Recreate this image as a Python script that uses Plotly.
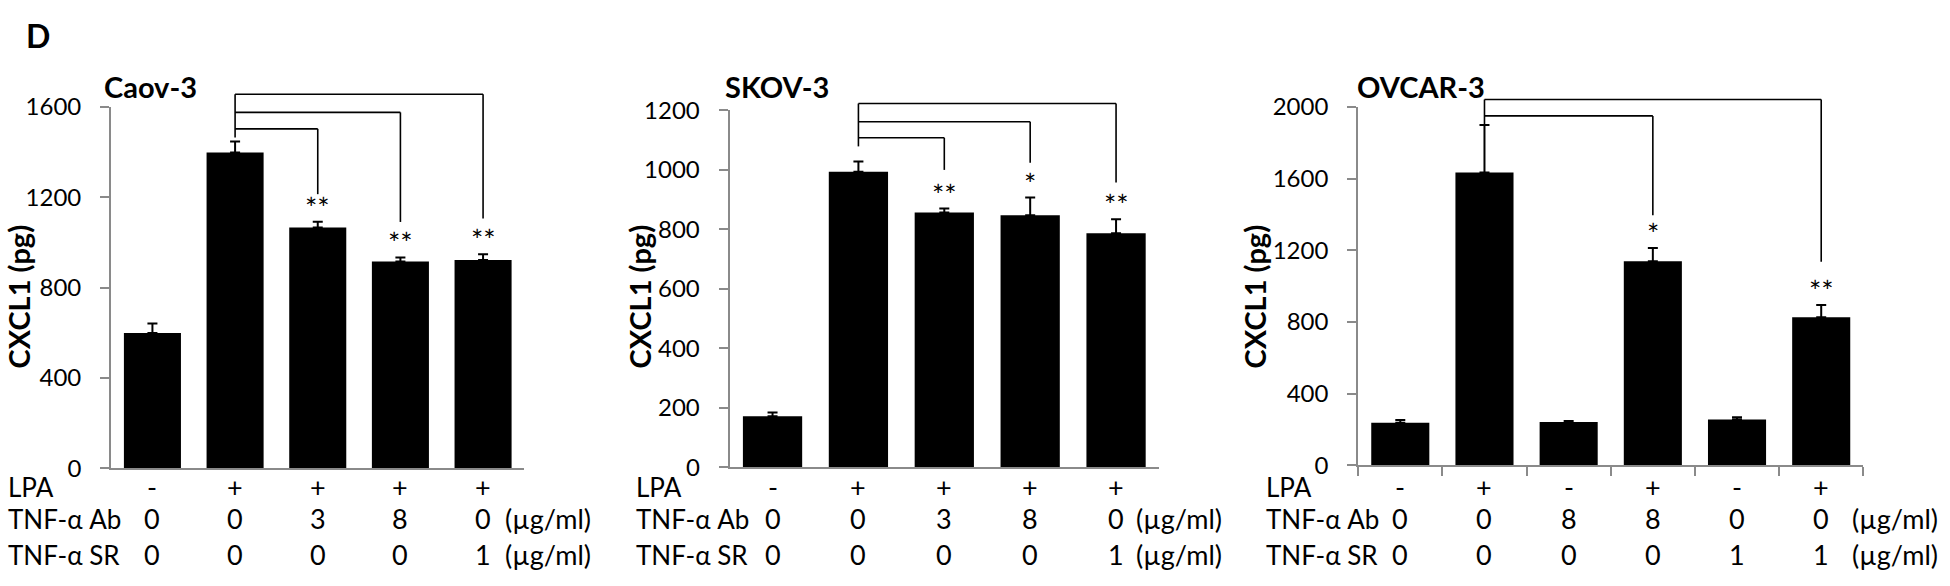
import plotly.graph_objects as go

W, H = 1950, 586

# ---------------- data ----------------
panel_titles = ["Caov-3", "SKOV-3", "OVCAR-3"]

caov_values = [600, 1398, 1067, 916, 923]
caov_errors = [42, 49, 25, 18, 25]
caov_sig = ["", "", "**", "**", "**"]
caov_lpa = ["-", "+", "+", "+", "+"]
caov_ab = ["0", "0", "3", "8", "0"]
caov_sr = ["0", "0", "0", "0", "1"]
caov_yticks = [0, 400, 800, 1200, 1600]

skov_values = [172, 994, 857, 848, 787]
skov_errors = [13, 34, 13, 59, 47]
skov_sig = ["", "", "**", "*", "**"]
skov_lpa = ["-", "+", "+", "+", "+"]
skov_ab = ["0", "0", "3", "8", "0"]
skov_sr = ["0", "0", "0", "0", "1"]
skov_yticks = [0, 200, 400, 600, 800, 1000, 1200]

ovcar_values = [238, 1634, 242, 1139, 256, 826]
ovcar_errors = [15, 266, 5, 74, 12, 69]
ovcar_sig = ["", "", "", "*", "", "**"]
ovcar_lpa = ["-", "+", "-", "+", "-", "+"]
ovcar_ab = ["0", "0", "8", "8", "0", "0"]
ovcar_sr = ["0", "0", "0", "0", "1", "1"]
ovcar_yticks = [0, 400, 800, 1200, 1600, 2000]

row_labels = ["LPA", "TNF-\u03b1 Ab", "TNF-\u03b1 SR"]
unit_label = "(\u00b5g/ml)"
y_title = "CXCL1 (pg)"
panel_letter = "D"

# ---------------- layout geometry (pixels) ----------------
FONT = "Lato, 'Open Sans', 'DejaVu Sans', sans-serif"
AXIS_GRAY = "#8a8a8a"

panels = [
    dict(values=caov_values, errors=caov_errors, sig=caov_sig,
         rows=[caov_lpa, caov_ab, caov_sr], yticks=caov_yticks,
         x0=111.1, x1=524.4, yzero=476.0, ytop=95.7,
         title_x=101.6, ytitle_x=18, label_x=6, unit_x=503, boundary_ticks=False,
         brackets=[(2, 1503, 1214), (3, 1576, 1091), (4, 1656, 1106)], ctrl=1, ctrl_bottom=1465),
    dict(values=skov_values, errors=skov_errors, sig=skov_sig,
         rows=[skov_lpa, skov_ab, skov_sr], yticks=skov_yticks,
         x0=729.6, x1=1159.0, yzero=475.0, ytop=99.3,
         title_x=723, ytitle_x=639, label_x=634, unit_x=1134, boundary_ticks=False,
         brackets=[(2, 1108, 1000), (3, 1162, 1024), (4, 1223, 958)], ctrl=1, ctrl_bottom=1079),
    dict(values=ovcar_values, errors=ovcar_errors, sig=ovcar_sig,
         rows=[ovcar_lpa, ovcar_ab, ovcar_sr], yticks=ovcar_yticks,
         x0=1358.2, x1=1863.3, yzero=472.7, ytop=95.7,
         title_x=1354.8, ytitle_x=1254, label_x=1264, unit_x=1850, boundary_ticks=True,
         brackets=[(3, 1950, 1395), (5, 2042, 1136)], ctrl=1, ctrl_bottom=1905),
]
row_y_px = [495, 529, 567]
ytitle_y_px = 295


def px_x(x):
    return x / W


def px_y(y):
    return 1 - y / H


fig = go.Figure()
shapes = []
annotations = []

for i, p in enumerate(panels):
    k = "" if i == 0 else str(i + 1)
    n = len(p["values"])
    ymax = p["yticks"][-1]
    ydom = [px_y(p["yzero"]), px_y(p["ytop"])]

    def yp(v, ydom=ydom, ymax=ymax):
        return ydom[0] + v / ymax * (ydom[1] - ydom[0])

    fig.add_trace(go.Bar(
        x=list(range(n)), y=p["values"],
        xaxis="x" + k, yaxis="y" + k,
        marker=dict(color="black", line=dict(width=0)),
        error_y=dict(type="data", array=p["errors"], arrayminus=[0] * n,
                     symmetric=False, color="black", thickness=2, width=5),
        showlegend=False, hoverinfo="skip",
    ))

    xa = dict(domain=[px_x(p["x0"]), px_x(p["x1"])], anchor="y" + k,
              range=[-0.5, n - 0.5], showgrid=False, zeroline=False,
              showline=True, linecolor=AXIS_GRAY, linewidth=2,
              showticklabels=False, fixedrange=True)
    if p["boundary_ticks"]:
        xa.update(tickmode="array", tickvals=[j - 0.5 for j in range(n + 1)],
                  ticks="outside", ticklen=9, tickwidth=2, tickcolor=AXIS_GRAY)
    else:
        xa.update(ticks="")
    ya = dict(domain=ydom, anchor="x" + k, range=[0, ymax],
              tickmode="array", tickvals=p["yticks"],
              ticks="outside", ticklen=9, tickwidth=2, tickcolor=AXIS_GRAY,
              showline=True, linecolor=AXIS_GRAY, linewidth=2,
              showgrid=False, zeroline=False, ticklabelstandoff=14,
              tickfont=dict(family=FONT, size=24, color="black"), fixedrange=True)
    fig.update_layout(**{"xaxis" + k: xa, "yaxis" + k: ya})

    xr = "x" + k
    # significance brackets
    top_level = max(b[1] for b in p["brackets"])
    shapes.append(dict(type="line", xref=xr, yref="paper",
                       x0=p["ctrl"], x1=p["ctrl"], y0=yp(top_level), y1=yp(p["ctrl_bottom"]),
                       line=dict(color="black", width=1.6)))
    for tgt, level, drop in p["brackets"]:
        shapes.append(dict(type="line", xref=xr, yref="paper",
                           x0=p["ctrl"], x1=tgt, y0=yp(level), y1=yp(level),
                           line=dict(color="black", width=1.6)))
        shapes.append(dict(type="line", xref=xr, yref="paper",
                           x0=tgt, x1=tgt, y0=yp(level), y1=yp(drop),
                           line=dict(color="black", width=1.6)))

    # asterisks
    for j, s in enumerate(p["sig"]):
        if s:
            annotations.append(dict(xref=xr, yref="paper", x=j,
                                    y=yp(p["values"][j] + p["errors"][j]),
                                    text=s, showarrow=False, xanchor="center", yanchor="bottom",
                                    yshift=-5, font=dict(family=FONT, size=29, color="black")))

    # panel title
    annotations.append(dict(xref="paper", yref="paper", x=px_x(p["title_x"]), y=px_y(74),
                            text="<b>%s</b>" % panel_titles[i], showarrow=False,
                            xanchor="left", yanchor="middle",
                            font=dict(family=FONT, size=29, color="black")))
    # y title
    annotations.append(dict(xref="paper", yref="paper", x=px_x(p["ytitle_x"]),
                            y=px_y(ytitle_y_px),
                            text="<b>%s</b>" % y_title, textangle=-90, showarrow=False,
                            xanchor="center", yanchor="middle",
                            font=dict(family=FONT, size=29, color="black")))
    # condition rows
    for r, (lab, vals) in enumerate(zip(row_labels, p["rows"])):
        ry = px_y(row_y_px[r])
        annotations.append(dict(xref="paper", yref="paper", x=px_x(p["label_x"]), y=ry,
                                text=lab, showarrow=False, xanchor="left", yanchor="middle",
                                font=dict(family=FONT, size=26, color="black")))
        for j, v in enumerate(vals):
            annotations.append(dict(xref=xr, yref="paper", x=j, y=ry, text=v,
                                    showarrow=False, xanchor="center", yanchor="middle",
                                    font=dict(family=FONT, size=27, color="black")))
        if r > 0:
            annotations.append(dict(xref="paper", yref="paper", x=px_x(p["unit_x"]), y=ry,
                                    text=unit_label, showarrow=False, xanchor="left",
                                    yanchor="middle",
                                    font=dict(family=FONT, size=27, color="black")))

annotations.append(dict(xref="paper", yref="paper", x=px_x(24), y=px_y(20),
                        text="<b>%s</b>" % panel_letter, showarrow=False,
                        xanchor="left", yanchor="middle",
                        font=dict(family=FONT, size=32, color="black")))

fig.update_layout(
    width=W, height=H, autosize=False,
    margin=dict(l=0, r=0, t=0, b=0),
    paper_bgcolor="white", plot_bgcolor="white",
    bargap=0.31,
    shapes=shapes, annotations=annotations,
    font=dict(family=FONT, color="black"),
)

fig.write_html("out.html", config={"displayModeBar": False},
               post_script="document.body.style.margin='0';document.body.style.overflow='hidden';")
